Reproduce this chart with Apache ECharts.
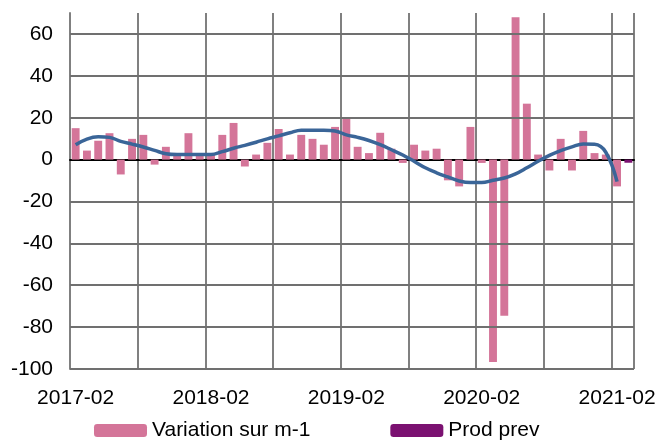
<!DOCTYPE html>
<html>
<head>
<meta charset="utf-8">
<script src="https://cdn.jsdelivr.net/npm/echarts@6/dist/echarts.min.js"></script>
<style>
  html, body { margin: 0; padding: 0; background: #fff; }
  #chart { width: 662px; height: 443px; }
</style>
</head>
<body>
<div id="chart"></div>
<script>
const months = [
  "2017-02", "2017-03", "2017-04", "2017-05", "2017-06", "2017-07", "2017-08", "2017-09", "2017-10", "2017-11", "2017-12", "2018-01",
  "2018-02", "2018-03", "2018-04", "2018-05", "2018-06", "2018-07", "2018-08", "2018-09", "2018-10", "2018-11", "2018-12", "2019-01",
  "2019-02", "2019-03", "2019-04", "2019-05", "2019-06", "2019-07", "2019-08", "2019-09", "2019-10", "2019-11", "2019-12", "2020-01",
  "2020-02", "2020-03", "2020-04", "2020-05", "2020-06", "2020-07", "2020-08", "2020-09", "2020-10", "2020-11", "2020-12", "2021-01",
  "2021-02", "2021-03"
];

// variation sur m-1 (%)
const variation = [
  15, 4.3, 9, 12.6, -7.1, 9.9, 11.8, -2.4, 6.1, 2.6, 12.6, 2.6,
  2.7, 11.8, 17.5, -3.3, 2.4, 8, 14.6, 2.4, 11.8, 9.9, 7.1, 15.6,
  20.3, 6.1, 3.1, 12.8, 5.2, -1.6, 7.1, 4.3, 5.2, -9.9, -12.8, 15.6,
  -1.6, -96.6, -74.6, 68, 26.7, 2.4, -5.2, 9.9, -5.2, 13.7, 3.1, 2.4,
  -12.8, null
];

// prévision
const prodPrev = [
  null, null, null, null, null, null, null, null, null, null, null, null,
  null, null, null, null, null, null, null, null, null, null, null, null,
  null, null, null, null, null, null, null, null, null, null, null, null,
  null, null, null, null, null, null, null, null, null, null, null, null,
  null, -1.5
];

// tendance lissée
const trend = [
  7.1, 9.8, 10.9, 10.6, 8.7, 7.4, 6, 4.4, 2.8, 2.4, 2.4, 2.4,
  2.4, 3.8, 5.4, 6.8, 8.3, 9.9, 11.3, 12.8, 14, 14, 14, 13.7,
  11.8, 10.6, 9.1, 7.1, 4.7, 2.2, -0.8, -3.9, -6.3, -8.3, -10.2, -11,
  -11, -9.9, -8.8, -6.8, -3.9, -0.8, 2, 4.3, 6.1, 7.4, 7.3, 3.5,
  -10.5, null
];

// lignes horizontales de la grille
const yGrid = [-100, -80, -60, -40, -20, 20, 40, 60];

const chart = echarts.init(document.getElementById("chart"));
const font = "'Liberation Sans', Arial, sans-serif";
const gridColor = "#808080";

const option = {
  animation: false,
  textStyle: { fontFamily: font },
  grid: { left: 70, right: 28, top: 13, bottom: 74 },
  legend: {
    left: 89,
    top: 415,
    itemWidth: 53,
    itemHeight: 13,
    itemGap: 80,
    textStyle: { fontSize: 21, color: "#000", fontFamily: font },
    data: ["Variation sur m-1", "Prod prev"],
  },
  xAxis: [
    {
      type: "category",
      data: months,
      axisLine: { onZero: true, lineStyle: { color: "#000", width: 2 } },
      axisTick: { show: false },
      axisLabel: { show: false },
      splitLine: {
        show: true,
        interval: (index) => index % 6 === 0 && index < months.length - 1,
        lineStyle: { color: gridColor, width: 2 },
      },
    },
    {
      type: "category",
      data: months,
      position: "bottom",
      axisLine: { show: false, onZero: false },
      axisTick: { show: false },
      axisLabel: { interval: 11, fontSize: 21, color: "#000", margin: 19, fontFamily: font },
      splitLine: { show: false },
    },
  ],
  yAxis: {
    type: "value",
    min: -100,
    max: 70,
    interval: 20,
    axisLine: { show: true, lineStyle: { color: gridColor, width: 2 } },
    axisTick: { show: false },
    axisLabel: { fontSize: 21, color: "#000", margin: 17, showMaxLabel: false, fontFamily: font },
    splitLine: { show: false },
  },
  series: [
    {
      name: "Variation sur m-1",
      type: "bar",
      data: variation,
      barWidth: "70%",
      barGap: "-100%",
      itemStyle: { color: "#d47599" },
      markLine: {
        silent: true,
        symbol: "none",
        label: { show: false },
        lineStyle: { color: "#707070", width: 2, type: "solid", opacity: 1 },
        data: yGrid.map((v) => ({ yAxis: v })),
      },
    },
    {
      name: "Prod prev",
      type: "bar",
      data: prodPrev,
      barWidth: "70%",
      itemStyle: { color: "#7b1171" },
    },
    {
      name: "Tendance",
      type: "line",
      data: trend,
      smooth: 0.4,
      symbol: "none",
      z: 5,
      lineStyle: { color: "#3a6598", width: 3.5 },
    },
  ],
};

chart.setOption(option);
</script>
</body>
</html>
